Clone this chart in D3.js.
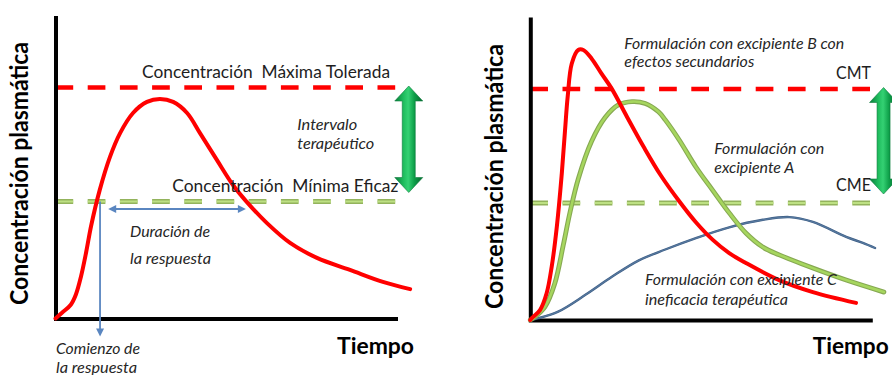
<!DOCTYPE html>
<html>
<head>
<meta charset="utf-8">
<script src="https://cdn.jsdelivr.net/npm/d3@7"></script>
<style>
  html, body { margin: 0; padding: 0; background: #ffffff; }
  svg { display: block; }
  text { font-family: Lato, Carlito, Calibri, "Open Sans", sans-serif; white-space: pre; }
</style>
</head>
<body>
<svg id="chart" width="892" height="375"></svg>
<script>
// ---------- data (time units, concentration units) ----------
const CMT = 77;   // Concentración Máxima Tolerada
const CME = 39;   // Concentración Mínima Eficaz

// left panel: single dose curve
const curveResponse = [[0,0],[0.2,2],[0.45,4.6],[0.6,8],[0.75,14],[0.9,22],[1.05,31],[1.3,42.8],[1.6,53.8],[1.9,61.8],[2.28,68.5],[2.69,72.2],[3.07,73.2],[3.46,72.2],[3.87,68.5],[4.25,61.8],[4.75,52.8],[5.22,44.5],[5.63,38.8],[6.22,31.8],[6.9,25.2],[7.69,20.2],[8.66,16.2],[9.63,12.2],[10.43,9.8]];
const onsetTime = 1.31;
const durationStart = 1.55, durationEnd = 5.6, durationLevel = 36.5;

// right panel: three formulations
const curveB = [[0,0],[0.04,0.6],[0.285,3.3],[0.48,8.9],[0.63,17.8],[0.78,31.1],[0.92,48],[1.02,63],[1.10,74.5],[1.22,85.5],[1.41,90],[1.56,90],[1.80,87.2],[2.09,82.2],[2.39,77.2],[2.85,67.6],[3.35,57.4],[3.85,48],[4.38,39.6],[4.87,32.6],[5.36,26.8],[5.85,22.3],[6.34,19],[7.32,13.3],[8.31,9.3],[9.58,5.7]];
const curveA = [[0,0],[0.14,1.1],[0.43,4.4],[0.72,12.2],[0.97,25],[1.17,36],[1.41,47],[1.80,59.5],[2.20,67.5],[2.59,71.7],[2.99,72.8],[3.38,72.2],[3.77,69.4],[3.97,66.7],[4.38,60],[4.87,51],[5.36,43.3],[5.85,35.7],[6.34,29],[6.84,24.3],[7.32,21.7],[8.31,17.3],[9.29,13.3],[10.4,9.3]];
const curveC = [[0,0],[0.24,0.6],[0.82,2.8],[1.61,8.3],[2.40,14.4],[3.18,19.8],[3.97,23.5],[4.87,27.3],[5.85,30.9],[6.84,33.4],[7.62,34.3],[8.31,32.7],[9.29,27.7],[9.78,25.7],[10.14,24]];

// therapeutic-window arrow
const windowArrowTime = 10.39;
const windowArrowTop = 77.5, windowArrowBottom = 42;

// ---------- drawing ----------
const svg = d3.select("#chart");
const x = d3.scaleLinear().domain([0, 10]).range([0, 340]);
const y = d3.scaleLinear().domain([0, 101]).range([303, 0]);

const defs = svg.append("defs");
const grad = defs.append("linearGradient").attr("id", "gArrow")
  .attr("x1", "0").attr("x2", "1").attr("y1", "0").attr("y2", "0");
[[0, "#0a7a3a"], [0.3, "#1dbb5c"], [0.48, "#34d173"], [0.7, "#0d9e48"], [1, "#06652e"]]
  .forEach(([o, c]) => grad.append("stop").attr("offset", o).attr("stop-color", c));

const line = d3.line().x(d => x(d[0])).y(d => y(d[1])).curve(d3.curveCatmullRom.alpha(0.5));

function txt(g, px, py, s, o = {}) {
  const t = g.append("text").attr("x", px).attr("y", py).text(s)
    .attr("font-size", o.size || 15)
    .attr("font-weight", o.weight || "normal")
    .attr("font-style", o.style || "normal")
    .attr("fill", o.fill || "#262626")
    .attr("text-anchor", o.anchor || "start");
  if (o.len) t.attr("textLength", o.len).attr("lengthAdjust", "spacingAndGlyphs");
  return t;
}

function dashed(g, level, kind) {
  const pts = [[0, level], [10, level]];
  const dl = d3.line().x(d => x(d[0])).y(d => y(d[1]));
  if (kind === "red") {
    g.append("path").attr("d", dl(pts)).attr("stroke", "#ff0000").attr("stroke-width", 4.3)
      .attr("fill", "none").attr("stroke-dasharray", "17.7,14.5");
  } else {
    g.append("path").attr("d", dl(pts)).attr("stroke", "#93b35c").attr("stroke-width", 5)
      .attr("fill", "none").attr("stroke-dasharray", "17.7,14.5");
    g.append("path").attr("d", dl(pts)).attr("stroke", "#bde083").attr("stroke-width", 2.2)
      .attr("fill", "none").attr("stroke-dasharray", "17.7,14.5");
  }
}

function axes(g) {
  const xa = d3.axisBottom(x).tickValues([]).tickSizeOuter(0);
  const ya = d3.axisLeft(y).tickValues([]).tickSizeOuter(0);
  g.append("g").attr("transform", `translate(0,${y(0)})`).call(xa)
    .select(".domain").attr("stroke", "#000").attr("stroke-width", 4).attr("stroke-linecap", "square");
  g.append("g").call(ya)
    .select(".domain").attr("stroke", "#000").attr("stroke-width", 4);
}

function windowArrow(g) {
  const cx = x(windowArrowTime), yt = y(windowArrowTop), yb = y(windowArrowBottom);
  const hw = 14, hl = 15, sw = 6.5;
  const p = d3.path();
  p.moveTo(cx, yt);
  p.lineTo(cx + hw, yt + hl); p.lineTo(cx + sw, yt + hl);
  p.lineTo(cx + sw, yb - hl); p.lineTo(cx + hw, yb - hl);
  p.lineTo(cx, yb);
  p.lineTo(cx - hw, yb - hl); p.lineTo(cx - sw, yb - hl);
  p.lineTo(cx - sw, yt + hl); p.lineTo(cx - hw, yt + hl);
  p.closePath();
  g.append("path").attr("d", p.toString()).attr("fill", "url(#gArrow)")
    .attr("stroke", "#0b7c3c").attr("stroke-width", 0.6);
}

// ===== LEFT PANEL =====
const L = svg.append("g").attr("transform", "translate(55.5,15.5)");
dashed(L, CMT, "red");
dashed(L, CME, "green");

// texts (drawn under curves)
txt(svg, 142, 78, "Concentración  Máxima Tolerada", { size: 17.5, len: 248, fill: "#1e1e1e" });
txt(svg, 172.3, 192, "Concentración  Mínima Eficaz", { size: 17.5, len: 226, fill: "#1e1e1e" });
txt(svg, 297.3, 130, "Intervalo", { size: 15.5, style: "italic", len: 60 });
txt(svg, 297.3, 148.5, "terapéutico", { size: 15.5, style: "italic", len: 77 });
txt(svg, 130, 237, "Duración de", { size: 15.5, style: "italic", len: 80 });
txt(svg, 130, 264, "la respuesta", { size: 15.5, style: "italic", len: 81 });
txt(svg, 56, 354, "Comienzo de", { size: 15.5, style: "italic", len: 84 });
txt(svg, 56, 372.5, "la respuesta", { size: 15.5, style: "italic", len: 81 });
txt(svg, 337, 354, "Tiempo", { size: 22, weight: "bold", fill: "#000", len: 77 });
txt(svg, 0, 0, "Concentración plasmática", { size: 24, weight: "bold", fill: "#000", anchor: "middle", len: 263 })
  .attr("transform", "translate(27.5,173.5) rotate(-90)");

axes(L);
windowArrow(L);

// blue annotation arrows
const blue = "#5a86c0";
const ox = x(onsetTime);
L.append("line").attr("x1", ox).attr("x2", ox).attr("y1", y(CME)).attr("y2", y(-6) - 7)
  .attr("stroke", blue).attr("stroke-width", 1.8);
L.append("path").attr("d", `M${ox - 4},${y(-6) - 8}L${ox + 4},${y(-6) - 8}L${ox},${y(-6)}Z`).attr("fill", blue);
const dx1 = x(durationStart), dx2 = x(durationEnd), dy = y(durationLevel);
L.append("line").attr("x1", dx1 + 6).attr("x2", dx2 - 6).attr("y1", dy).attr("y2", dy)
  .attr("stroke", blue).attr("stroke-width", 1.8);
L.append("path").attr("d", `M${dx1},${dy}L${dx1 + 8},${dy - 4}L${dx1 + 8},${dy + 4}Z`).attr("fill", blue);
L.append("path").attr("d", `M${dx2},${dy}L${dx2 - 8},${dy - 4}L${dx2 - 8},${dy + 4}Z`).attr("fill", blue);

L.append("path").attr("d", line(curveResponse)).attr("fill", "none")
  .attr("stroke", "#ff0000").attr("stroke-width", 4).attr("stroke-linecap", "round");

// ===== RIGHT PANEL =====
const R = svg.append("g").attr("transform", "translate(530.3,17)");
dashed(R, CMT, "red");
dashed(R, CME, "green");

txt(svg, 624.3, 49.3, "Formulación con excipiente B con", { size: 15.5, style: "italic", len: 220 });
txt(svg, 624.3, 67, "efectos secundarios", { size: 15.5, style: "italic", len: 130 });
txt(svg, 836, 79, "CMT", { size: 17.5, len: 35, fill: "#1e1e1e" });
txt(svg, 836, 191, "CME", { size: 17.5, len: 35, fill: "#1e1e1e" });
txt(svg, 714.3, 154.3, "Formulación con", { size: 15.5, style: "italic", len: 110 });
txt(svg, 714.3, 173.3, "excipiente A", { size: 15.5, style: "italic", len: 80 });
txt(svg, 645, 285, "Formulación con excipiente C", { size: 15.5, style: "italic", len: 192 });
txt(svg, 645, 305, "ineficacia terapéutica", { size: 15.5, style: "italic", len: 143 });
txt(svg, 812.7, 354, "Tiempo", { size: 22, weight: "bold", fill: "#000", len: 76 });
txt(svg, 0, 0, "Concentración plasmática", { size: 24, weight: "bold", fill: "#000", anchor: "middle", len: 265 })
  .attr("transform", "translate(502.5,176.5) rotate(-90)");

axes(R);
windowArrow(R);

R.append("path").attr("d", line(curveC)).attr("fill", "none")
  .attr("stroke", "#3f5f86").attr("stroke-width", 2.4).attr("stroke-linecap", "round");
R.append("path").attr("d", line(curveC)).attr("fill", "none")
  .attr("stroke", "#56789e").attr("stroke-width", 1.2).attr("stroke-linecap", "round");
R.append("path").attr("d", line(curveA)).attr("fill", "none")
  .attr("stroke", "#86a852").attr("stroke-width", 4.8).attr("stroke-linecap", "round");
R.append("path").attr("d", line(curveA)).attr("fill", "none")
  .attr("stroke", "#a6d65e").attr("stroke-width", 2.6).attr("stroke-linecap", "round");
R.append("path").attr("d", line(curveB)).attr("fill", "none")
  .attr("stroke", "#ff0000").attr("stroke-width", 4).attr("stroke-linecap", "round");
</script>
</body>
</html>
